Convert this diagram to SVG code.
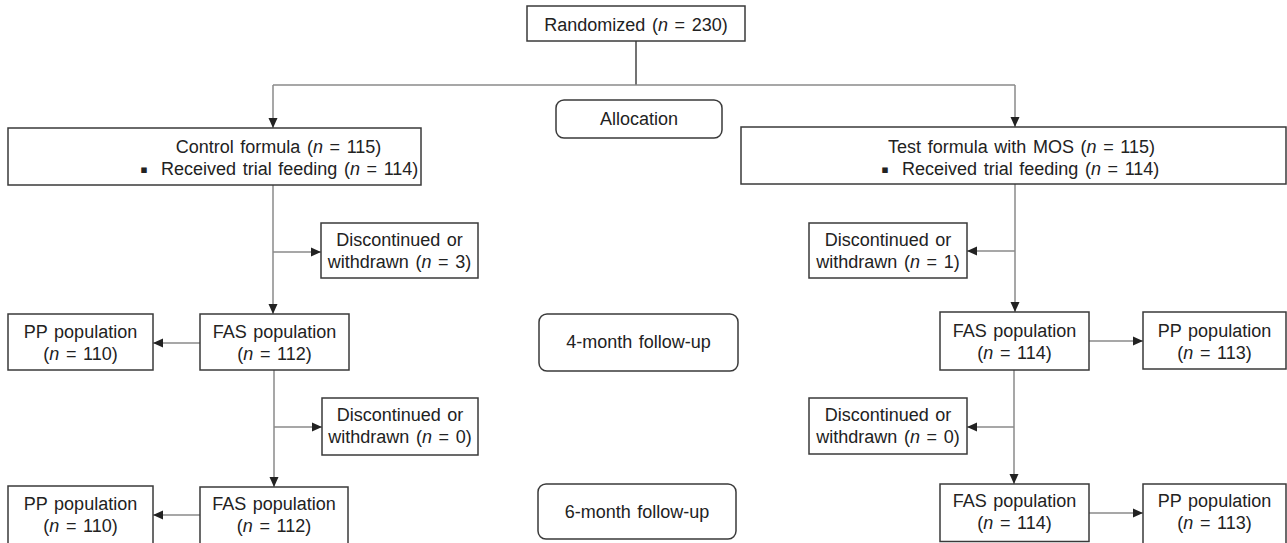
<svg xmlns="http://www.w3.org/2000/svg" width="1287" height="543" viewBox="0 0 1287 543">
<style>
.box{fill:#fff;stroke:#3a3a3a;stroke-width:1.5}
.rbox{fill:#fff;stroke:#3a3a3a;stroke-width:1.5}
.t{font-family:"Liberation Sans",Arial,sans-serif;font-size:18px;word-spacing:1.6px;fill:#222}
.m{text-anchor:middle}
.c{fill:none;stroke:#8a8a8a;stroke-width:1.5}
.cd{fill:none;stroke:#444;stroke-width:1.5}
.bul{font-family:"DejaVu Sans",sans-serif;font-size:11px;fill:#222}
</style>
<defs>
<marker id="ah" markerUnits="userSpaceOnUse" markerWidth="10" markerHeight="10" viewBox="0 0 10 10" refX="10" refY="5" orient="auto">
<path d="M0,0.5 L10,5 L0,9.5 Z" fill="#222"/>
</marker>
</defs>

<g id="connectors">
<path class="cd" d="M636,41 V85"/>
<path class="c" d="M273,85 H1015"/>
<path class="c" d="M273,85 V128" marker-end="url(#ah)"/>
<path class="c" d="M1015,85 V127" marker-end="url(#ah)"/>
<path class="c" d="M273,185 V314" marker-end="url(#ah)"/>
<path class="c" d="M273,252 H321" marker-end="url(#ah)"/>
<path class="c" d="M200,343 H153" marker-end="url(#ah)"/>
<path class="c" d="M274,370 V487" marker-end="url(#ah)"/>
<path class="c" d="M274,427 H322" marker-end="url(#ah)"/>
<path class="c" d="M200,515 H153" marker-end="url(#ah)"/>
<path class="c" d="M1015,184 V312" marker-end="url(#ah)"/>
<path class="c" d="M1015,251 H967" marker-end="url(#ah)"/>
<path class="c" d="M1089,341 H1143" marker-end="url(#ah)"/>
<path class="c" d="M1014,370 V484" marker-end="url(#ah)"/>
<path class="c" d="M1014,427 H967" marker-end="url(#ah)"/>
<path class="c" d="M1089,513 H1143" marker-end="url(#ah)"/>
</g>

<g id="randomized">
<rect class="box" x="527" y="6" width="218" height="35"/>
<text class="t m" x="636" y="31">Randomized (<tspan font-style="italic">n</tspan> = 230)</text>
</g>

<g id="allocation">
<rect class="rbox" x="556" y="100" width="166" height="38" rx="8"/>
<text class="t m" x="639" y="125">Allocation</text>
</g>

<g id="control">
<rect class="box" x="8" y="128" width="413" height="57"/>
<text class="t m" x="278.5" y="153">Control formula (<tspan font-style="italic">n</tspan> = 115)</text>
<text class="bul m" x="144" y="173">▪</text>
<text class="t" x="161" y="175">Received trial feeding (<tspan font-style="italic">n</tspan> = 114)</text>
</g>

<g id="test">
<rect class="box" x="741" y="127" width="545" height="57"/>
<text class="t m" x="1021.5" y="153">Test formula with MOS (<tspan font-style="italic">n</tspan> = 115)</text>
<text class="bul m" x="885" y="173">▪</text>
<text class="t" x="902" y="175">Received trial feeding (<tspan font-style="italic">n</tspan> = 114)</text>
</g>

<g id="disc-left-1">
<rect class="box" x="321" y="223" width="157" height="55"/>
<text class="t m" x="399.5" y="246">Discontinued or</text>
<text class="t m" x="399.5" y="268">withdrawn (<tspan font-style="italic">n</tspan> = 3)</text>
</g>

<g id="disc-right-1">
<rect class="box" x="809" y="223" width="158" height="55"/>
<text class="t m" x="888" y="246">Discontinued or</text>
<text class="t m" x="888" y="268">withdrawn (<tspan font-style="italic">n</tspan> = 1)</text>
</g>

<g id="pp-left-1">
<rect class="box" x="8" y="314" width="145" height="56"/>
<text class="t m" x="80.5" y="338">PP population</text>
<text class="t m" x="80.5" y="360">(<tspan font-style="italic">n</tspan> = 110)</text>
</g>

<g id="fas-left-1">
<rect class="box" x="200" y="314" width="149" height="56"/>
<text class="t m" x="274.5" y="338">FAS population</text>
<text class="t m" x="274.5" y="360">(<tspan font-style="italic">n</tspan> = 112)</text>
</g>

<g id="followup-4">
<rect class="rbox" x="539" y="314" width="199" height="57" rx="8"/>
<text class="t m" x="638.5" y="348">4-month follow-up</text>
</g>

<g id="fas-right-1">
<rect class="box" x="940" y="312" width="149" height="58"/>
<text class="t m" x="1014.5" y="337">FAS population</text>
<text class="t m" x="1014.5" y="359">(<tspan font-style="italic">n</tspan> = 114)</text>
</g>

<g id="pp-right-1">
<rect class="box" x="1143" y="312" width="143" height="57"/>
<text class="t m" x="1214.5" y="337">PP population</text>
<text class="t m" x="1214.5" y="359">(<tspan font-style="italic">n</tspan> = 113)</text>
</g>

<g id="disc-left-2">
<rect class="box" x="322" y="398" width="156" height="57"/>
<text class="t m" x="400" y="421">Discontinued or</text>
<text class="t m" x="400" y="443">withdrawn (<tspan font-style="italic">n</tspan> = 0)</text>
</g>

<g id="disc-right-2">
<rect class="box" x="809" y="398" width="158" height="56"/>
<text class="t m" x="888" y="421">Discontinued or</text>
<text class="t m" x="888" y="443">withdrawn (<tspan font-style="italic">n</tspan> = 0)</text>
</g>

<g id="pp-left-2">
<rect class="box" x="8" y="486" width="145" height="60"/>
<text class="t m" x="80.5" y="510">PP population</text>
<text class="t m" x="80.5" y="532">(<tspan font-style="italic">n</tspan> = 110)</text>
</g>

<g id="fas-left-2">
<rect class="box" x="200" y="487" width="148" height="59"/>
<text class="t m" x="274" y="510">FAS population</text>
<text class="t m" x="274" y="532">(<tspan font-style="italic">n</tspan> = 112)</text>
</g>

<g id="followup-6">
<rect class="rbox" x="538" y="484" width="198" height="55" rx="8"/>
<text class="t m" x="637" y="518">6-month follow-up</text>
</g>

<g id="fas-right-2">
<rect class="box" x="940" y="484" width="149" height="57.5"/>
<text class="t m" x="1014.5" y="507">FAS population</text>
<text class="t m" x="1014.5" y="529">(<tspan font-style="italic">n</tspan> = 114)</text>
</g>

<g id="pp-right-2">
<rect class="box" x="1143" y="484" width="143" height="60"/>
<text class="t m" x="1214.5" y="507">PP population</text>
<text class="t m" x="1214.5" y="529">(<tspan font-style="italic">n</tspan> = 113)</text>
</g>
</svg>
